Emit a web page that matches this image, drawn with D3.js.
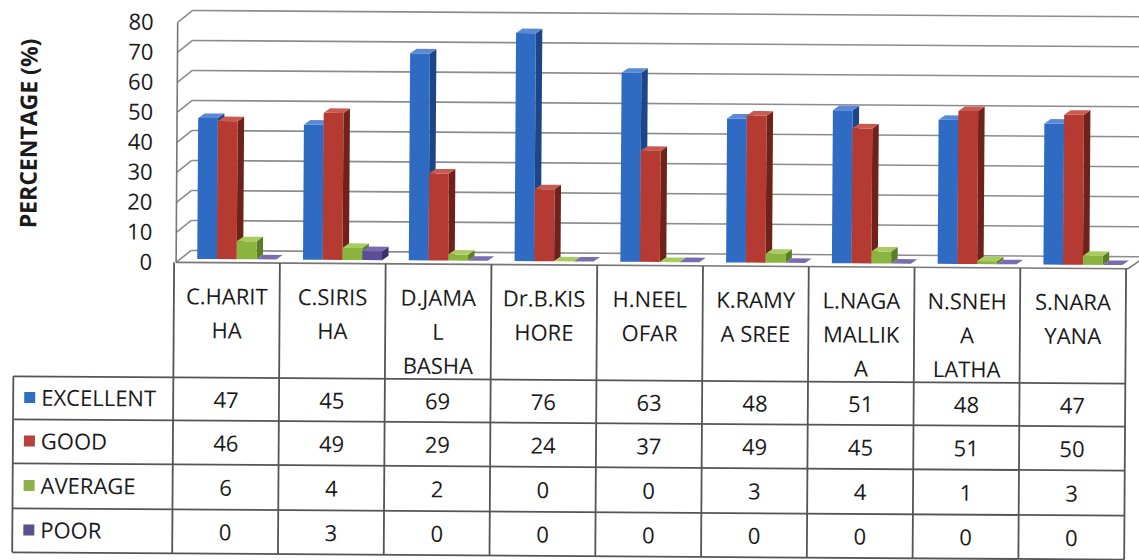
<!DOCTYPE html>
<html>
<head>
<meta charset="utf-8">
<script src="https://cdn.jsdelivr.net/npm/d3@7"></script>
<style>
  body { margin: 0; background: #fff; }
  text { font-family: "Open Sans", Lato, sans-serif; fill: #1a1a1a; }
</style>
</head>
<body>
<div id="chart"></div>
<script>
// Chart data
const categories = ['C.HARITHA', 'C.SIRISHA', 'D.JAMAL BASHA', 'Dr.B.KISHORE', 'H.NEELOFAR',
  'K.RAMYA SREE', 'L.NAGAMALLIKA', 'N.SNEHA LATHA', 'S.NARAYANA']
const headerLines = [
  ['C.HARIT', 'HA'], ['C.SIRIS', 'HA'], ['D.JAMA', 'L', 'BASHA'], ['Dr.B.KIS', 'HORE'],
  ['H.NEEL', 'OFAR'], ['K.RAMY', 'A SREE'], ['L.NAGA', 'MALLIK', 'A'], ['N.SNEH', 'A', 'LATHA'],
  ['S.NARA', 'YANA']
]
const series = ['EXCELLENT', 'GOOD', 'AVERAGE', 'POOR']
const excellent = [47, 45, 69, 76, 63, 48, 51, 48, 47]
const good = [46, 49, 29, 24, 37, 49, 45, 51, 50]
const average = [6, 4, 2, 0, 0, 3, 4, 1, 3]
const poor = [0, 3, 0, 0, 0, 0, 0, 0, 0]
const yTicks = [0, 10, 20, 30, 40, 50, 60, 70, 80]

const values = [excellent, good, average, poor]

// Colours: front, side, top
const colors = [
  { front: '#2f6bc2', side: '#1d4688', top: '#5a8ad6', key: '#2f6fc0' },
  { front: '#b53a31', side: '#6f2219', top: '#c95a50', key: '#b5413a' },
  { front: '#8bb43e', side: '#5b7d23', top: '#a9cc62', key: '#8fb04a' },
  { front: '#5b4d96', side: '#3a2f68', top: '#7a6cb0', key: '#5b4f8e' }
]

// Layout constants
const W = 1139
const H = 560
const FLOOR_Y = 265
const DX = 17
const DY = 12
const BAR_D0 = 0.3
const BAR_D1 = 0.68
const TABLE_L = 14
const TABLE_X0 = 174
const TABLE_X1 = 1126
const ROWS = [380, 423, 467, 512, 556]
const FONT = 22

const svg = d3.select('#chart')
  .append('svg')
  .attr('width', W)
  .attr('height', H)

// the scan is slightly tilted
const g = svg.append('g').attr('transform', 'rotate(0.38, 570, 280)')

// Scales
const x = d3.scaleBand().domain(categories).range([TABLE_X0, TABLE_X1])
const xs = d3.scaleBand().domain(series).range([18, 97])
const y = d3.scaleLinear().domain([0, 80]).range([0, 240])
const yAxisScale = d3.scaleLinear().domain([0, 80]).range([FLOOR_Y, FLOOR_Y - 240])

// project (front-plane x, value, depth) to screen
const proj = (px, v, d) => [px + d * DX, FLOOR_Y - y(v) - d * DY]
const poly = pts => pts.map(p => p.join(',')).join(' ')

// Walls: gridlines on back wall and left side wall
const gridColor = '#8c8c8c'
const walls = g.append('g')
yTicks.forEach(t => {
  const bl = proj(TABLE_X0, t, 1)
  const br = proj(TABLE_X1 + 12, t, 1)
  const fl = proj(TABLE_X0 + 2, t, 0)
  walls.append('line')
    .attr('x1', bl[0]).attr('y1', bl[1]).attr('x2', br[0]).attr('y2', br[1])
    .attr('stroke', gridColor).attr('stroke-width', 1.6)
  walls.append('line')
    .attr('x1', fl[0]).attr('y1', fl[1]).attr('x2', bl[0]).attr('y2', bl[1])
    .attr('stroke', gridColor).attr('stroke-width', 1.6)
})
// left wall front edge
walls.append('line')
  .attr('x1', TABLE_X0 + 2).attr('y1', FLOOR_Y - y(80))
  .attr('x2', TABLE_X0 + 2).attr('y2', FLOOR_Y)
  .attr('stroke', '#777').attr('stroke-width', 1.6)
// floor outline
const fl0 = proj(TABLE_X0 + 2, 0, 0)
const fr0 = proj(TABLE_X1 + 2, 0, 0)
const fr1 = proj(TABLE_X1 + 2, 0, 1)
walls.append('polyline')
  .attr('points', poly([fl0, fr0, fr1]))
  .attr('fill', 'none').attr('stroke', '#777').attr('stroke-width', 1.6)

// Bars
const bars = g.append('g')
categories.forEach((c, i) => {
  series.forEach((s, j) => {
    const v = values[j][i]
    const x0 = x(c) + xs(s)
    const x1 = x0 + xs.bandwidth()
    const col = colors[j]
    const bar = bars.append('g')
    bar.append('polygon')
      .attr('points', poly([proj(x1, 0, BAR_D0), proj(x1, 0, BAR_D1), proj(x1, v, BAR_D1), proj(x1, v, BAR_D0)]))
      .attr('fill', col.side)
    bar.append('polygon')
      .attr('points', poly([proj(x0, 0, BAR_D0), proj(x1, 0, BAR_D0), proj(x1, v, BAR_D0), proj(x0, v, BAR_D0)]))
      .attr('fill', col.front)
    bar.append('polygon')
      .attr('points', poly([proj(x0, v, BAR_D0), proj(x1, v, BAR_D0), proj(x1, v, BAR_D1), proj(x0, v, BAR_D1)]))
      .attr('fill', col.top)
  })
})

// Y axis
const yAxis = g.append('g')
  .attr('transform', `translate(${TABLE_X0 + 2},0)`)
  .call(d3.axisLeft(yAxisScale).tickValues(yTicks).tickSize(0).tickPadding(24))
yAxis.select('.domain').remove()
yAxis.selectAll('text')
  .attr('font-size', 22)
  .style('font-family', '"Open Sans", sans-serif')
  .attr('fill', '#1a1a1a')

g.append('text')
  .attr('transform', 'translate(36,137) rotate(-90)')
  .attr('text-anchor', 'middle')
  .attr('font-size', 23)
  .attr('font-weight', 'bold')
  .text('PERCENTAGE (%)')

// Data table
const lineColor = '#555'
const table = g.append('g')
const tl = (x1, y1, x2, y2) => table.append('line')
  .attr('x1', x1).attr('y1', y1).attr('x2', x2).attr('y2', y2)
  .attr('stroke', lineColor).attr('stroke-width', 1.8)

// vertical lines
d3.range(categories.length + 1).forEach(k => {
  const vx = TABLE_X0 + k * x.step()
  tl(vx, FLOOR_Y, vx, ROWS[ROWS.length - 1])
})
tl(TABLE_L, ROWS[0], TABLE_L, ROWS[ROWS.length - 1])
// horizontal lines
ROWS.forEach(ry => tl(TABLE_L, ry, TABLE_X1, ry))

// header text
categories.forEach((c, i) => {
  const cx = x(c) + x.bandwidth() / 2
  headerLines[i].forEach((ln, k) => {
    table.append('text')
      .attr('x', cx)
      .attr('y', 299 + k * 34)
      .attr('dy', '0.35em')
      .attr('text-anchor', 'middle')
      .attr('font-size', FONT)
      .text(ln)
  })
})

// legend keys and values
series.forEach((s, j) => {
  const cy = (ROWS[j] + ROWS[j + 1]) / 2
  table.append('rect')
    .attr('x', 25).attr('y', cy - 6).attr('width', 11).attr('height', 11)
    .attr('fill', colors[j].key)
  table.append('text')
    .attr('x', 42).attr('y', cy).attr('dy', '0.35em')
    .attr('font-size', FONT)
    .text(s)
  categories.forEach((c, i) => {
    table.append('text')
      .attr('x', x(c) + x.bandwidth() / 2)
      .attr('y', cy + 1)
      .attr('dy', '0.35em')
      .attr('text-anchor', 'middle')
      .attr('font-size', FONT)
      .text(values[j][i])
  })
})
</script>
</body>
</html>
